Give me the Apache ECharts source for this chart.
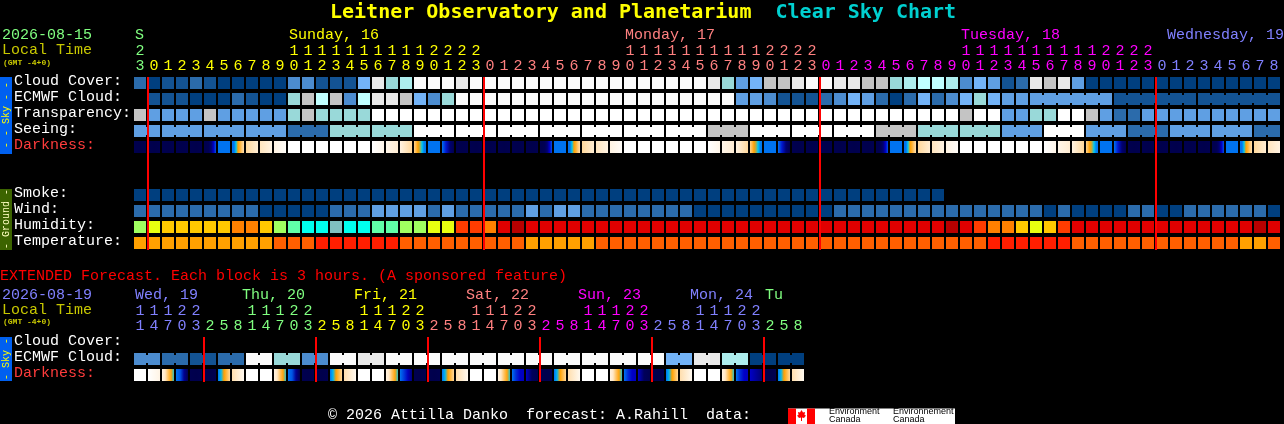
<!DOCTYPE html>
<html><head><meta charset="utf-8">
<style>html,body{margin:0;padding:0;background:#000}#c{width:1284px;height:424px}</style>
<script src="https://cdn.jsdelivr.net/npm/echarts@6/dist/echarts.min.js"></script>
</head><body><div id="c"></div>
<script>
// ---------- data ----------
const mainRows = ['Cloud Cover:','ECMWF Cloud:','Transparency:','Seeing:','Darkness:','','','Smoke:','Wind:','Humidity:','Temperature:'];
const extRows = ['Cloud Cover:','ECMWF Cloud:','Darkness:'];
const mainHours = [3,0,1,2,3,4,5,6,7,8,9,0,1,2,3,4,5,6,7,8,9,0,1,2,3,0,1,2,3,4,5,6,7,8,9,0,1,2,3,4,5,6,7,8,9,0,1,2,3,0,1,2,3,4,5,6,7,8,9,0,1,2,3,4,5,6,7,8,9,0,1,2,3,0,1,2,3,4,5,6,7,8];
const mainTens = ['2','','','','','','','','','','','1','1','1','1','1','1','1','1','1','1','2','2','2','2','','','','','','','','','','','1','1','1','1','1','1','1','1','1','1','2','2','2','2','','','','','','','','','','','1','1','1','1','1','1','1','1','1','1','2','2','2','2','','','','','','','','',''];
const extHours = [1,4,7,0,3,2,5,8,1,4,7,0,3,2,5,8,1,4,7,0,3,2,5,8,1,4,7,0,3,2,5,8,1,4,7,0,3,2,5,8,1,4,7,0,3,2,5,8];
const extTens = ['1','1','1','2','2','','','','1','1','1','2','2','','','','1','1','1','2','2','','','','1','1','1','2','2','','','','1','1','1','2','2','','','','1','1','1','2','2','','',''];
const mainDayText = ['S','Sunday, 16','Monday, 17','Tuesday, 18','Wednesday, 19'];
const mainDayCell = [0,11,35,59,73];
const extDayText = ['Wed, 19','Thu, 20','Fri, 21','Sat, 22','Sun, 23','Mon, 24','Tu'];
const extDayCell = [0,8,16,24,32,40,45];
const mainMidnights = [1,25,49,73];
const extMidnights = [5,13,21,29,37,45];
const mainDayStarts = [0,1,25,49,73];
const extDayStarts = [0,5,13,21,29,37,45];

const cloudCover = [2,0,1,1,2,1,0,0,0,0, 0,3,3,1,1,1,5,10,6,7, 11,11,11,10,11,11,11,11,11,11, 11,11,11,11,11,11,11,11,11,11, 11,10,6,4,5,9,9,10,11,11, 10,10,9,9,6,7,8,8,7,3, 5,4,1,2,10,9,10,4,0,0, 0,0,0,0,0,0,0,0,0,0, 0,0];
const ecmwfCloud = [null,1,1,1,0,0,0,2,1,0, 0,6,9,8,9,3,8,10,10,9, 5,3,6,11,11,11,11,11,11,11, 11,11,11,11,11,11,11,11,11,11, 11,11,11,4,4,3,1,1,1,2, 3,5,4,2,0,2,5,2,3,5, 6,5,4,4,4,4,4,4,4,4, 1,1,1,1,1,1,1,1,1,1, 1,1];
const transparency = [9,4,4,4,4,9,4,4,4,4, 4,6,9,6,6,6,6,12,12,12, 12,12,12,12,12,12,12,12,12,12, 12,12,12,12,12,12,12,12,12,12, 12,12,12,12,12,12,12,12,12,12, 12,12,12,12,12,12,12,12,12,9, 12,12,4,4,6,6,12,12,9,4, 2,2,4,4,4,4,4,4,4,4, 4,4];
const seeing = [4,4,4,4,4,4,4,4,4,4, 4,2,2,2,6,6,6,6,6,6, 12,12,12,12,12,12,12,12,12,12, 12,12,12,12,12,12,12,12,12,12, 12,9,9,9,12,12,12,12,12,12, 12,12,12,9,9,9,6,6,6,6, 6,6,4,4,4,12,12,12,4,4, 4,2,2,2,4,4,4,4,4,4, 2,2];
const smoke = [0,0,0,0,0,0,0,0,0,0, 0,0,0,0,0,0,0,0,0,0, 0,0,0,0,0,0,0,0,0,0, 0,0,0,0,0,0,0,0,0,0, 0,0,0,0,0,0,0,0,0,0, 0,0,0,0,0,0,0,0];
const wind = [2,2,2,2,2,2,2,2,2,0, 0,0,0,0,2,2,2,4,4,4, 4,2,4,2,2,2,2,2,4,2, 4,4,2,2,2,2,2,2,2,2, 0,0,0,0,0,0,0,0,0,0, 2,2,2,2,2,2,2,2,2,2, 2,2,2,2,2,0,2,0,0,0, 0,2,2,0,0,2,2,2,2,2, 2,0];
const humidity = [6,5,4,4,4,4,4,3,3,4, 6,7,8,8,9,8,8,7,7,6, 6,5,5,2,2,3,1,0,1,1, 1,1,1,1,1,1,1,1,1,1, 1,1,1,1,1,1,1,1,1,1, 1,1,1,1,1,1,1,1,0,1, 2,3,3,4,5,4,2,1,1,1, 1,1,1,1,1,1,1,1,1,1, 0,1];
const temperature = [2,2,2,2,2,2,2,2,2,2, 1,1,1,0,0,0,0,0,0,1, 1,1,1,1,1,1,1,1,2,2, 2,2,2,1,1,1,1,1,1,1, 1,1,1,1,1,1,1,1,1,1, 1,1,1,1,1,1,1,1,1,1, 1,0,0,0,0,0,0,1,1,1, 1,1,1,1,1,1,1,1,1,2, 2,1];
const extEcmwf = [3,3,2,2,1,1,2,2,11,11,6,6,3,3,11,11,10,10,11,11,11,11,11,11,11,11,11,11,11,11,11,11,11,11,11,11,11,11,5,5,10,10,7,7,0,0,0,0];

// darkness samples across one cell (0 night ... 100 full daylight)
const N=[8,6,8], B=[50,50], W=[100,100];
const DI=[8,8,9,14,30,44], RI=[50,50,60,66,70,76,82], C1=[80,88], C2=[84,92], C3=[92,98];
const D1=[100,94], D2=[94,88], D3=[92,80], SE=[78,72,66,64,60,52,50], FA=[50,34,14,8];
const EC=[100,93], ES=[92,85,74,67,61], EF=[50,45,20,8], EG=[50,40,28,16], EH=[50,38,30,28], EJ=[30,10,8], EK=[30,22,14], ER=[50,58,66,72,80], EA=[82,96];
const darkness = [N,N,N,N,N,DI,B,RI,C1,C2,C3,W,W,W,W,W,W,D1,D2,D3,SE,B,FA,N,N,N,N,N,N,DI,B,RI,C1,C2,C3,W,W,W,W,W,W,D1,D2,D3,SE,B,FA,N,N,N,N,N,N,DI,B,RI,C1,C2,C3,W,W,W,W,W,W,D1,D2,D3,SE,B,FA,N,N,N,N,N,N,DI,B,RI,C1,C2];
const extDarkness = [W,EC,ES,EF,N,N,ER,EA,W,W,ES,EF,N,N,ER,EA,W,W,ES,EG,N,N,ER,EA,W,W,ES,EH,EJ,N,ER,EA,W,W,ES,EH,EJ,N,ER,EA,W,W,ES,EH,EK,N,ER,EA];

// cells that belong to one forecast block, first and last cell
const seeingBlocks = [[0,1],[2,4],[5,7],[8,10],[11,13],[14,16],[17,19],[20,22],[23,25],[26,28],[29,31],[32,34],[35,37],[38,40],[41,43],[44,46],[47,49],[50,52],[53,55],[56,58],[59,61],[62,64],[65,67],[68,70],[71,73],[74,76],[77,79],[80,81]];
const ecmwfBlocks = [[64,69],[70,75],[76,81]];
const extBlocks = [[0,1],[2,3],[4,5],[6,7],[8,9],[10,11],[12,13],[14,15],[16,17],[18,19],[20,21],[22,23],[24,25],[26,27],[28,29],[30,31],[32,33],[34,35],[36,37],[38,39],[40,41],[42,43],[44,45],[46,47]];

// ---------- styles ----------
const skyColors = ['#003f7f','#135393','#2b6bab','#4c8ccf','#5f9fe3','#73b3f7','#99d9d9','#adeded','#c0ffff','#c4c4c4','#e9e9e9','#fbfbfb','#ffffff'];
const humColors = ['#b80000','#e00000','#ff3c00','#ff8000','#ffc800','#e8ff10','#a0ff60','#60ffa8','#00ffee','#80c0c0'];
const tempColors = ['#ff1e00','#ff5f00','#ffa000'];
const darkStops = [[0,[0,0,64]],[8,[0,0,80]],[30,[0,0,200]],[50,[0,115,240]],[60,[0,200,240]],[66,[255,160,0]],[75,[255,200,112]],[85,[255,232,200]],[100,[255,255,255]]];
const dayPalette = ['#80ff80','#ffff00','#ff8080','#ff00ff','#8080ff'];
const mainDayColor = ['#80ff80','#ffff00','#ff8080','#ff00ff','#8080ff'];
const extDayColor = ['#8080ff','#80ff80','#ffff00','#ff8080','#ff00ff','#8080ff','#80ff80'];
const FF = '"Liberation Mono", monospace';
const font = '15px ' + FF;

function darkColor(v){
  for(let i=1;i<darkStops.length;i++){
    if(v<=darkStops[i][0]){
      const a=darkStops[i-1], b=darkStops[i], t=(v-a[0])/(b[0]-a[0]);
      return 'rgb('+[0,1,2].map(k=>Math.round(a[1][k]+(b[1][k]-a[1][k])*t)).join(',')+')';
    }
  }
  return '#fff';
}
function blockJoin(blocks,i){return blocks.some(b=>i>=b[0]&&i<b[1])?1:0;}
function rowData(row,levels,palette,blocks){
  const out=[];
  levels.forEach((v,i)=>{ if(v!==null) out.push({value:[i,row,v,blocks?blockJoin(blocks,i):0], fill:palette[v]}); });
  return out;
}
function cellSeries(xi,yi,data){
  return {type:'custom',xAxisIndex:xi,yAxisIndex:yi,clip:false,z:2,silent:true,data:data.map(d=>d.value),
    renderItem(p,api){
      const c=api.coord([api.value(0),api.value(1)]), s=api.size([1,1]);
      const fill=data[p.dataIndex].fill, x=c[0]-s[0]/2+1, y=c[1]-s[1]/2+2, w=s[0]-2, h=s[1]-4;
      const kids=[{type:'rect',shape:{x,y,width:w,height:h},style:{fill}}];
      if(api.value(3)) kids.push({type:'rect',shape:{x:x+w,y:y+2,width:2,height:h-4},style:{fill}});
      return {type:'group',children:kids};
    }};
}
function darkSeries(xi,yi,row,cells){
  return {type:'custom',xAxisIndex:xi,yAxisIndex:yi,clip:false,z:2,silent:true,data:cells.map((d,i)=>[i,row]),
    renderItem(p,api){
      const c=api.coord([api.value(0),api.value(1)]), s=api.size([1,1]);
      const smp=cells[p.dataIndex];
      const stops=smp.map((v,k)=>({offset:k/(smp.length-1),color:darkColor(v)}));
      return {type:'rect',shape:{x:c[0]-s[0]/2+1,y:c[1]-s[1]/2+2,width:s[0]-2,height:s[1]-4},
        style:{fill:new echarts.graphic.LinearGradient(0,0,1,0,stops)}};
    }};
}
function midnightSeries(xi,yi,list,lastRow){
  return {type:'custom',xAxisIndex:xi,yAxisIndex:yi,clip:false,z:5,silent:true,data:list.map(i=>[i,0]),
    renderItem(p,api){
      const top=api.coord([api.value(0),0]), bot=api.coord([api.value(0),lastRow]), s=api.size([1,1]);
      return {type:'rect',shape:{x:top[0]-s[0]/2,y:top[1]-s[1]/2+2,width:2,height:bot[1]-top[1]+s[1]-3},style:{fill:'#ff0000'}};
    }};
}
function dayLabelSeries(xi,yi,cells,texts,colors,shifts,dy){
  return {type:'custom',xAxisIndex:xi,yAxisIndex:yi,clip:false,z:4,silent:true,data:cells.map(i=>[i,0]),
    renderItem(p,api){
      const c=api.coord([api.value(0),0]), s=api.size([1,1]), k=p.dataIndex;
      return {type:'text',x:c[0]-s[0]/2+shifts[k],y:c[1]+dy,style:{text:texts[k],fill:colors[k],font,verticalAlign:'middle',align:'left'}};
    }};
}
function colorFor(starts,palette){
  return function(v,i){ let k=0; starts.forEach((s,j)=>{if(i>=s)k=j;}); return palette[k]; };
}
function xAx(grid,labels,starts,palette,offset,margin){
  return {type:'category',gridIndex:grid,position:'top',offset,data:labels.map(String),
    axisLine:{show:false},axisTick:{show:false},splitLine:{show:false},
    axisLabel:{show:true,interval:0,margin,hideOverlap:false,fontFamily:FF,fontSize:15,color:colorFor(starts,palette)}};
}
function yAx(grid,labels){
  return {type:'category',gridIndex:grid,inverse:true,data:labels,
    axisLine:{show:false},axisTick:{show:false},splitLine:{show:false},
    axisLabel:{show:true,interval:0,margin:119,align:'left',verticalAlign:'bottom',lineHeight:4,fontFamily:FF,fontSize:15,
      color:v=>v==='Darkness:'?'#ff3c3c':'#ffffff'}};
}
function txt(t,x,y,fill,f,extra){
  return Object.assign({type:'text',x,y,silent:true,style:{text:t,fill,font:f||font,verticalAlign:'middle',align:'left'}},extra||{});
}
function vtxt(t,x,y,fill){
  return {type:'text',x,y,rotation:Math.PI/2,silent:true,style:{text:t,fill,font:'10px '+FF,verticalAlign:'middle',align:'center'}};
}
const extColors = ['#8080ff','#80ff80','#ffff00','#ff8080','#ff00ff','#8080ff','#80ff80'];
const smallFont = 'bold 8px '+FF;
const logoFont = '9px "Liberation Sans", sans-serif';

const chart = echarts.init(document.getElementById('c'),null,{renderer:'canvas',width:1284,height:424});
chart.setOption({
  backgroundColor:'#000',animation:false,
  title:{left:330,top:3,padding:0,
    text:'{a|Leitner Observatory and Planetarium}{a|  }{b|Clear Sky Chart}',
    textStyle:{rich:{
      a:{color:'#ffff00',fontFamily:'"DejaVu Sans Mono", monospace',fontWeight:'bold',fontSize:20},
      b:{color:'#00d0d0',fontFamily:'"DejaVu Sans Mono", monospace',fontWeight:'bold',fontSize:20}}}},
  grid:[{left:133,top:75,width:1148,height:176,containLabel:false},{left:133,top:335,width:672,height:48,containLabel:false}],
  xAxis:[
    xAx(0,mainHours,mainDayStarts,dayPalette,0,1),
    xAx(0,mainTens,mainDayStarts,dayPalette,15,1),
    xAx(1,extHours,extDayStarts,extColors,0,1),
    xAx(1,extTens,extDayStarts,extColors,15,1)
  ],
  yAxis:[yAx(0,mainRows),yAx(1,extRows)],
  series:[
    cellSeries(0,0,rowData(0,cloudCover,skyColors)),
    cellSeries(0,0,rowData(1,ecmwfCloud,skyColors,ecmwfBlocks)),
    cellSeries(0,0,rowData(2,transparency,skyColors)),
    cellSeries(0,0,rowData(3,seeing,skyColors,seeingBlocks)),
    darkSeries(0,0,4,darkness),
    cellSeries(0,0,rowData(7,smoke,skyColors)),
    cellSeries(0,0,rowData(8,wind,skyColors)),
    cellSeries(0,0,rowData(9,humidity,humColors)),
    cellSeries(0,0,rowData(10,temperature,tempColors)),
    midnightSeries(0,0,mainMidnights,10),
    dayLabelSeries(0,0,mainDayCell,mainDayText,mainDayColor,[2,2,2,2,12],-48),
    cellSeries(2,1,rowData(1,extEcmwf,skyColors,extBlocks)),
    darkSeries(2,1,2,extDarkness),
    midnightSeries(2,1,extMidnights,2),
    dayLabelSeries(2,1,extDayCell,extDayText,extDayColor,[2,-3,-3,-3,-3,-3,2],-48)
  ],
  graphic:[
    txt('2026-08-15',2,35,'#80ff80'),
    txt('Local Time',2,50,'#c8c800'),
    txt('(GMT -4+0)',3,62.5,'#c8c800',smallFont),
    {type:'rect',shape:{x:0,y:77,width:12,height:77},style:{fill:'#0060f0'},silent:true},
    vtxt('- - Sky - -',6,115,'#ffff00'),
    {type:'rect',shape:{x:0,y:189,width:12,height:61},style:{fill:'#3c6400'},silent:true},
    vtxt('- Ground -',6,219,'#ffffc0'),
    txt('EXTENDED Forecast. Each block is 3 hours. (A sponsored feature)',0,276.5,'#ff0000'),
    txt('2026-08-19',2,295,'#8080ff'),
    txt('Local Time',2,310,'#c8c800'),
    txt('(GMT -4+0)',3,322,'#c8c800',smallFont),
    {type:'rect',shape:{x:0,y:337,width:12,height:44},style:{fill:'#0060f0'},silent:true},
    vtxt('- Sky -',6,359,'#ffff00'),
    txt('\u00a9 2026 Attilla Danko  forecast: A.Rahill  data:',328,415,'#ffffff'),
    {type:'rect',shape:{x:788,y:408.5,width:167,height:15.5},style:{fill:'#ffffff'},silent:true},
    {type:'rect',shape:{x:788,y:408.5,width:8,height:15.5},style:{fill:'#ff0000'},silent:true},
    {type:'rect',shape:{x:807,y:408.5,width:8,height:15.5},style:{fill:'#ff0000'},silent:true},
    {type:'polygon',silent:true,shape:{points:[[801.5,410],[803,412.5],[805,412],[804.5,415],[806,415.5],[804,418],[802,417.5],[802,421],[801,421],[801,417.5],[799,418],[797,415.5],[798.5,415],[798,412],[800,412.5]]},style:{fill:'#ff0000'}},
    txt('Environment',829,412,'#000',logoFont),
    txt('Canada',829,419.5,'#000',logoFont),
    txt('Environnement',893,412,'#000',logoFont),
    txt('Canada',893,419.5,'#000',logoFont)
  ]
});
</script></body></html>
